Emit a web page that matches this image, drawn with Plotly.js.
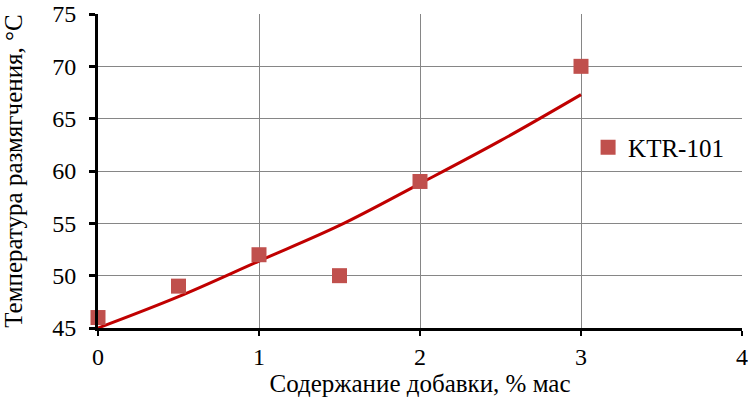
<!DOCTYPE html>
<html>
<head>
<meta charset="utf-8">
<script src="https://cdn.plot.ly/plotly-3.0.1.min.js"></script>
<style>
  body { margin: 0; background: #fff; }
  #chart { width: 748px; height: 405px; }
</style>
</head>
<body>
<div id="chart"></div>
<script>
// measured points
var additive = [0, 0.5, 1, 1.5, 2, 3];
var softening = [46, 49, 52, 50, 59, 70];

// trendline
var trendX = [0, 0.5, 1, 1.5, 2, 2.5, 3];
var trendY = [45, 48.0, 51.4, 54.8, 58.8, 62.9, 67.3];

var yTicks = [45, 50, 55, 60, 65, 70, 75];
var xTicks = [0, 1, 2, 3, 4];

var seriesName = 'KTR-101';

var data = [
    {
        x: trendX,
        y: trendY,
        type: 'scatter',
        mode: 'lines',
        line: { color: '#C00000', width: 3, shape: 'spline' },
        showlegend: false,
        hoverinfo: 'none'
    },
    {
        x: additive,
        y: softening,
        name: seriesName,
        type: 'scatter',
        mode: 'markers',
        cliponaxis: false,
        marker: { symbol: 'square', size: 15, color: '#C0504D' }
    }
];

var layout = {
    width: 748,
    height: 405,
    margin: { l: 98, r: 6, t: 14, b: 77 },
    paper_bgcolor: '#fff',
    plot_bgcolor: '#fff',
    font: { family: 'Liberation Serif', size: 25, color: '#000' },
    xaxis: {
        range: [0, 4],
        tickvals: xTicks,
        ticklabeloverflow: 'allow',
        tickfont: { size: 24 },
        showgrid: true,
        gridcolor: '#868686',
        gridwidth: 1,
        showline: true,
        linecolor: '#000',
        linewidth: 3,
        ticks: 'outside',
        ticklen: 5,
        tickwidth: 2,
        tickcolor: '#000',
        zeroline: false,
        title: { text: 'Содержание добавки, % мас', font: { size: 25 }, standoff: 6 }
    },
    yaxis: {
        range: [45, 75],
        tickvals: yTicks,
        ticklabeloverflow: 'allow',
        tickfont: { size: 24 },
        showgrid: true,
        gridcolor: '#868686',
        gridwidth: 1,
        showline: true,
        linecolor: '#000',
        linewidth: 3,
        ticks: 'outside',
        ticklen: 6,
        tickwidth: 3,
        tickcolor: '#000',
        ticklabelstandoff: 8,
        zeroline: false,
        title: { text: 'Температура размягчения, °С', font: { size: 25 }, standoff: 25 }
    },
    legend: {
        x: 0.761,
        y: 0.648,
        xanchor: 'left',
        yanchor: 'top',
        bgcolor: '#fff',
        font: { size: 25 },
        borderwidth: 0
    },
    showlegend: true
};

Plotly.newPlot('chart', data, layout, { displayModeBar: false, staticPlot: true });
</script>
</body>
</html>
